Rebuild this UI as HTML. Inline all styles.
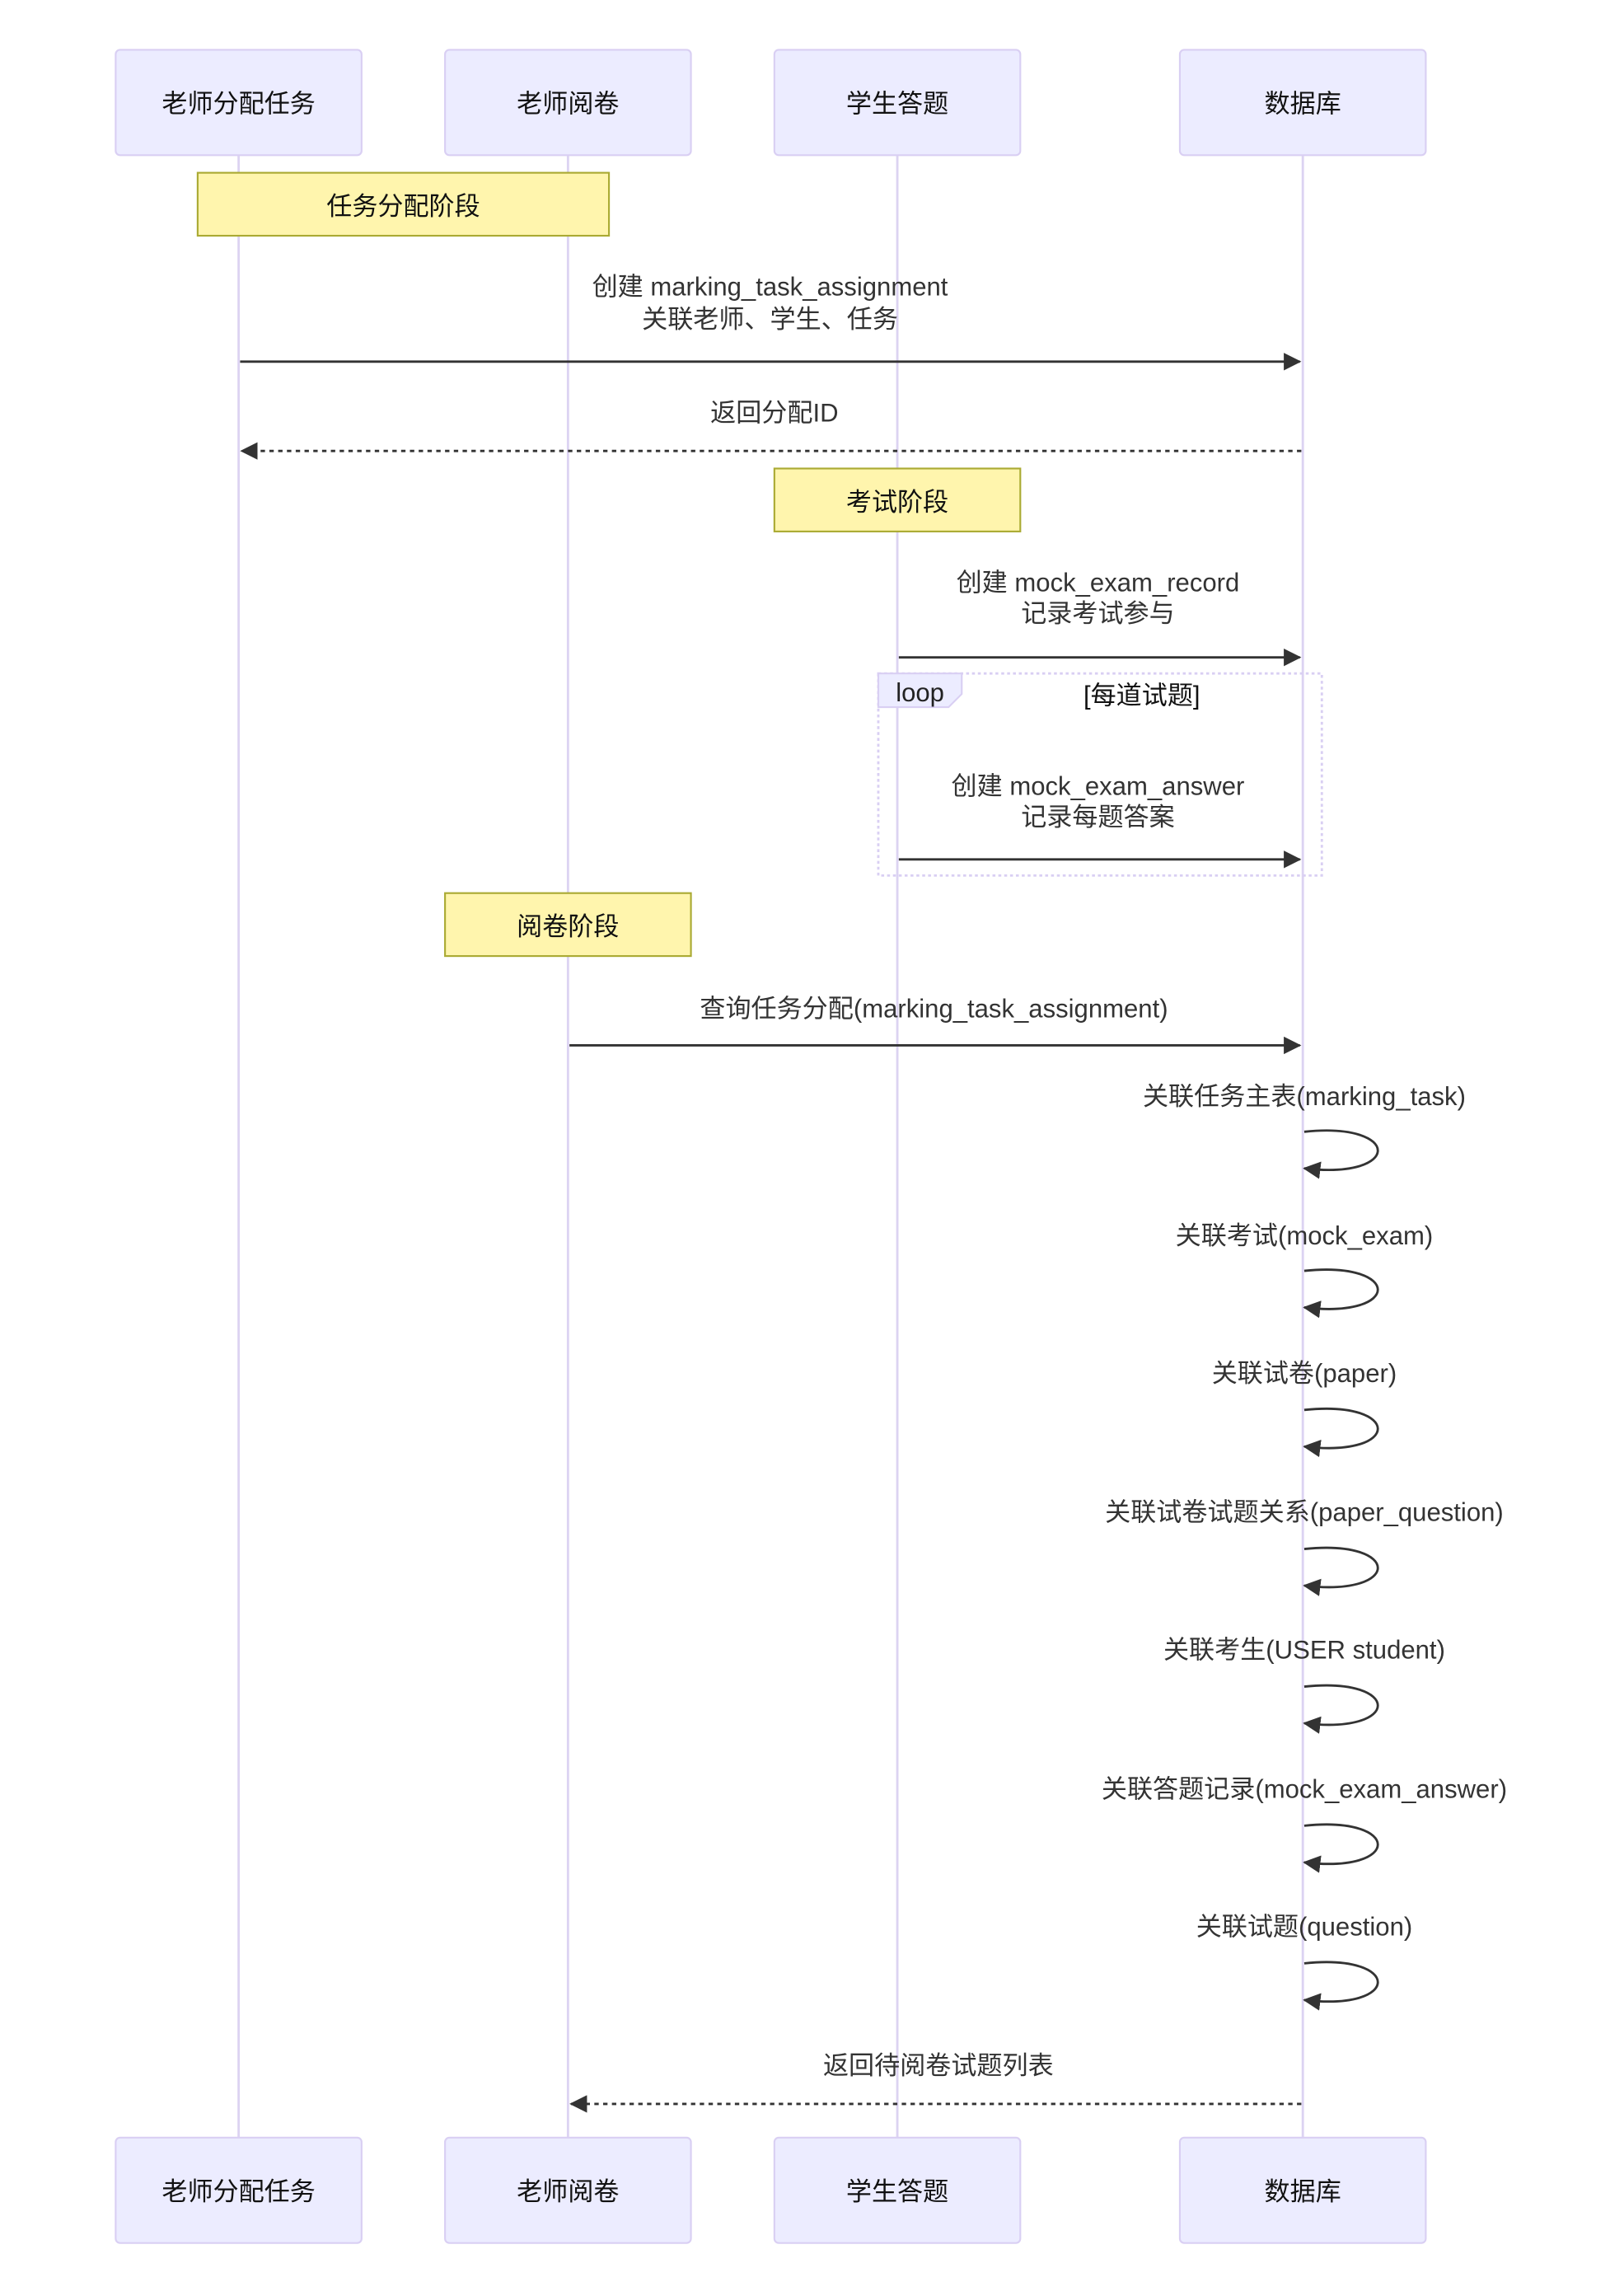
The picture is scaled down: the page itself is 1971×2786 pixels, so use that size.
<!DOCTYPE html>
<html><head><meta charset="utf-8"><style>
html,body{margin:0;padding:0;background:#fff;}
svg{display:block;}
text{font-family:"Liberation Sans","Noto Sans CJK SC",sans-serif;}
</style></head><body>
<svg width="1971" height="2786" viewBox="0 0 1109.4 1568.2" xmlns="http://www.w3.org/2000/svg">
<defs>
<marker id="ah" viewBox="0 0 12 12" refX="11" refY="6" markerWidth="12" markerHeight="12" markerUnits="userSpaceOnUse" orient="auto"><path d="M0,0 L12,6 L0,12 z" fill="#333"/></marker>
</defs>
<rect width="1109.4" height="1568.2" fill="#fff"/>
<g stroke="#dcd3f2" stroke-width="1.6">
<line x1="163" y1="106" x2="163" y2="1460"/>
<line x1="388" y1="106" x2="388" y2="1460"/>
<line x1="613" y1="106" x2="613" y2="1460"/>
<line x1="890" y1="106" x2="890" y2="1460"/>
</g>
<g fill="#ececff" stroke="#d9cff3" stroke-width="1.2">
<rect x="79" y="34" width="168" height="72" rx="3"/>
<rect x="304" y="34" width="168" height="72" rx="3"/>
<rect x="529" y="34" width="168" height="72" rx="3"/>
<rect x="806" y="34" width="168" height="72" rx="3"/>
<rect x="79" y="1460" width="168" height="72" rx="3"/>
<rect x="304" y="1460" width="168" height="72" rx="3"/>
<rect x="529" y="1460" width="168" height="72" rx="3"/>
<rect x="806" y="1460" width="168" height="72" rx="3"/>
</g>
<g font-size="17.5" fill="#111" text-anchor="middle" dominant-baseline="central">
<text x="163" y="71">老师分配任务</text><text x="388" y="71">老师阅卷</text><text x="613" y="71">学生答题</text><text x="890" y="71">数据库</text>
<text x="163" y="1497">老师分配任务</text><text x="388" y="1497">老师阅卷</text><text x="613" y="1497">学生答题</text><text x="890" y="1497">数据库</text>
</g>
<g fill="#fff5ad" stroke="#aaaa33" stroke-width="1.2">
<rect x="135" y="118" width="281" height="43"/>
<rect x="529" y="320" width="168" height="43"/>
<rect x="304" y="610" width="168" height="43"/>
</g>
<g font-size="17.5" fill="#111" text-anchor="middle" dominant-baseline="central">
<text x="275.5" y="141">任务分配阶段</text>
<text x="613" y="343">考试阶段</text>
<text x="388" y="633">阅卷阶段</text>
</g>
<rect x="600" y="460" width="303" height="138" fill="none" stroke="#d9cff3" stroke-width="1.6" stroke-dasharray="2,2"/>
<path d="M600,460 L657,460 L657,474 L648,483 L600,483 z" fill="#ececff" stroke="#d9cff3" stroke-width="1.2"/>
<g font-size="17.5" fill="#222" text-anchor="middle" dominant-baseline="central">
<text x="628.5" y="473">loop</text>
<text x="780" y="475" fill="#111">[每道试题]</text>
</g>
<g stroke="#333" stroke-width="1.6" fill="none">
<line x1="164" y1="247" x2="888" y2="247" marker-end="url(#ah)"/>
<line x1="889" y1="308" x2="165" y2="308" stroke-dasharray="3,3" marker-end="url(#ah)"/>
<line x1="614" y1="449" x2="888" y2="449" marker-end="url(#ah)"/>
<line x1="614" y1="587" x2="888" y2="587" marker-end="url(#ah)"/>
<line x1="389" y1="714" x2="888" y2="714" marker-end="url(#ah)"/>
<line x1="889" y1="1437" x2="390" y2="1437" stroke-dasharray="3,3" marker-end="url(#ah)"/>
<path d="M891,773 C958,766 958,806 891,798" marker-end="url(#ah)"/>
<path d="M891,868 C958,861 958,901 891,893" marker-end="url(#ah)"/>
<path d="M891,963 C958,956 958,996 891,988" marker-end="url(#ah)"/>
<path d="M891,1058 C958,1051 958,1091 891,1083" marker-end="url(#ah)"/>
<path d="M891,1152 C958,1145 958,1185 891,1177" marker-end="url(#ah)"/>
<path d="M891,1247 C958,1240 958,1280 891,1272" marker-end="url(#ah)"/>
<path d="M891,1341 C958,1334 958,1374 891,1366" marker-end="url(#ah)"/>
</g>
<g font-size="17.5" fill="#333" text-anchor="middle" dominant-baseline="central">
<text x="526" y="196">创建 marking_task_assignment</text>
<text x="526" y="218">关联老师、学生、任务</text>
<text x="529" y="282">返回分配ID</text>
<text x="750" y="398">创建 mock_exam_record</text>
<text x="750" y="419">记录考试参与</text>
<text x="750" y="537">创建 mock_exam_answer</text>
<text x="750" y="558">记录每题答案</text>
<text x="638" y="689">查询任务分配(marking_task_assignment)</text>
<text x="891" y="749">关联任务主表(marking_task)</text>
<text x="891" y="844">关联考试(mock_exam)</text>
<text x="891" y="938">关联试卷(paper)</text>
<text x="891" y="1033">关联试卷试题关系(paper_question)</text>
<text x="891" y="1127">关联考生(USER student)</text>
<text x="891" y="1222">关联答题记录(mock_exam_answer)</text>
<text x="891" y="1316">关联试题(question)</text>
<text x="641" y="1411">返回待阅卷试题列表</text>
</g>
</svg>
</body></html>
